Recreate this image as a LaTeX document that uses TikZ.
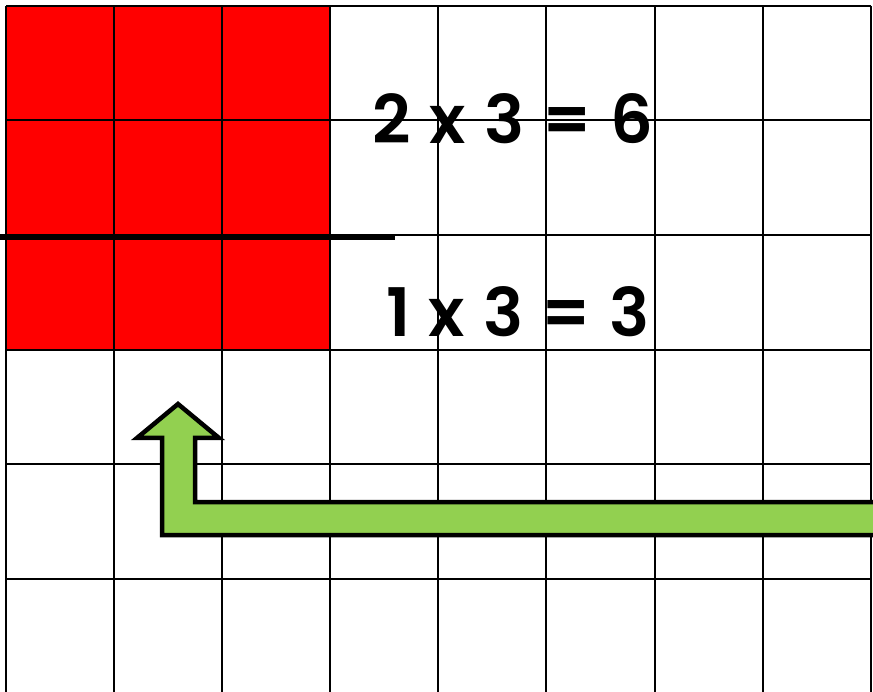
\documentclass[tikz,border=0pt]{standalone}
\usepackage{fontspec}
\setmainfont{Poppins}[WordSpace=1.15, BoldFont={Poppins SemiBold}]
\usepackage{tikz}
\definecolor{blockred}{RGB}{255, 0, 0}
\definecolor{arrowgreen}{RGB}{146, 208, 80}

\begin{document}
\begin{tikzpicture}[x=1pt, y=-1pt, every node/.style={font=\fontsize{67}{80}\selectfont\bfseries, inner sep=0pt}]
    \useasboundingbox (0,0) rectangle (873,692);
    \clip (0,0) rectangle (873,692);
    % red block
    \fill[blockred] (6,6) rectangle (330,350);
    % grid
    \foreach \gx in {6,114,222,330,438,546,655,763,871}
        \draw[line width=2pt] (\gx,6) -- (\gx,700);
    \foreach \gy in {6,120,235,350,464,579}
        \draw[line width=2pt] (6,\gy) -- (871,\gy);
    % split line
    \draw[line width=6pt] (0,237) -- (395,237);
    % products
    \node[anchor=base] (topprod) at (513,144) {2 x 3 = 6};
    \node[anchor=base] (botprod) at (518,337) {1 x 3 = 3};
    % arrow
    \draw[line width=4.5pt, fill=arrowgreen, line join=miter]
        (890,502) -- (195,502) -- (195,438) -- (219,438) -- (178,404)
        -- (137,438) -- (162,438) -- (162,535) -- (890,535) -- cycle;
\end{tikzpicture}
\end{document}
